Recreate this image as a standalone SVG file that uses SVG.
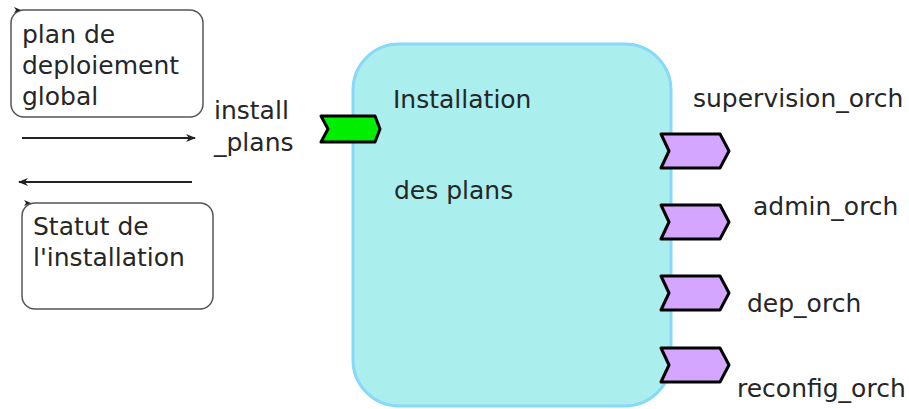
<svg xmlns="http://www.w3.org/2000/svg" width="909" height="409" viewBox="0 0 909 409">
<defs>
<style>
text{font-family:"DejaVu Sans",sans-serif;font-size:25px;fill:#262626}
.box{fill:#fff;stroke:#555;stroke-width:1.5}
.port{stroke:#000;stroke-width:3;stroke-linejoin:round}
.in{fill:#00ee00}
.out{fill:#d4a6ff}
.conn{stroke:#222;stroke-width:2;fill:none}
</style>
<marker id="ah" viewBox="0 0 10 10" refX="9" refY="5" markerWidth="12" markerHeight="10" orient="auto" markerUnits="userSpaceOnUse">
<path d="M0,1 L10,5 L0,9 L3,5 Z" fill="#222"/>
</marker>
<path id="tick" d="M0,-3 L7,0 L0,3 L2,0 Z" fill="#222"/>
</defs>
<g id="plan_deploiement">
<rect class="box" x="11" y="10" width="192" height="107" rx="13"/>
<use href="#tick" x="14" y="10"/>
<text x="22" y="43">plan de</text>
<text x="22" y="74">deploiement</text>
<text x="22" y="105">global</text>
</g>
<g id="statut_installation">
<rect class="box" x="22" y="203" width="191" height="106" rx="13"/>
<use href="#tick" x="24" y="203"/>
<text x="33" y="235">Statut de</text>
<text x="33" y="266">l'installation</text>
</g>
<g id="install_plans_label">
<text x="214" y="119">install</text>
<text x="214" y="151">_plans</text>
</g>
<g id="connectors">
<line class="conn" x1="22" y1="138" x2="195" y2="138" marker-end="url(#ah)"/>
<line class="conn" x1="192" y1="182" x2="19" y2="182" marker-end="url(#ah)"/>
</g>
<g id="installation">
<rect x="353" y="44" width="318" height="362" rx="46" fill="#aaeeee" stroke="#88d8f8" stroke-width="3"/>
<text x="393" y="108">Installation</text>
<text x="394" y="199">des plans</text>
</g>
<g id="port_install_plans">
<polygon class="port in" points="321,116 375,116 380,129 375,142 321,142 328,129"/>
</g>
<g id="port_supervision_orch">
<polygon class="port out" points="661,134 720,134 729,151 720,168 661,168 669,151"/>
<text x="693" y="107">supervision_orch</text>
</g>
<g id="port_admin_orch">
<polygon class="port out" points="661,205 720,205 729,222 720,239 661,239 669,222"/>
<text x="753" y="215">admin_orch</text>
</g>
<g id="port_dep_orch">
<polygon class="port out" points="661,276 720,276 729,293 720,310 661,310 669,293"/>
<text x="747" y="312">dep_orch</text>
</g>
<g id="port_reconfig_orch">
<polygon class="port out" points="661,348 720,348 729,365 720,382 661,382 669,365"/>
<text x="737" y="397">reconfig_orch</text>
</g>
</svg>
